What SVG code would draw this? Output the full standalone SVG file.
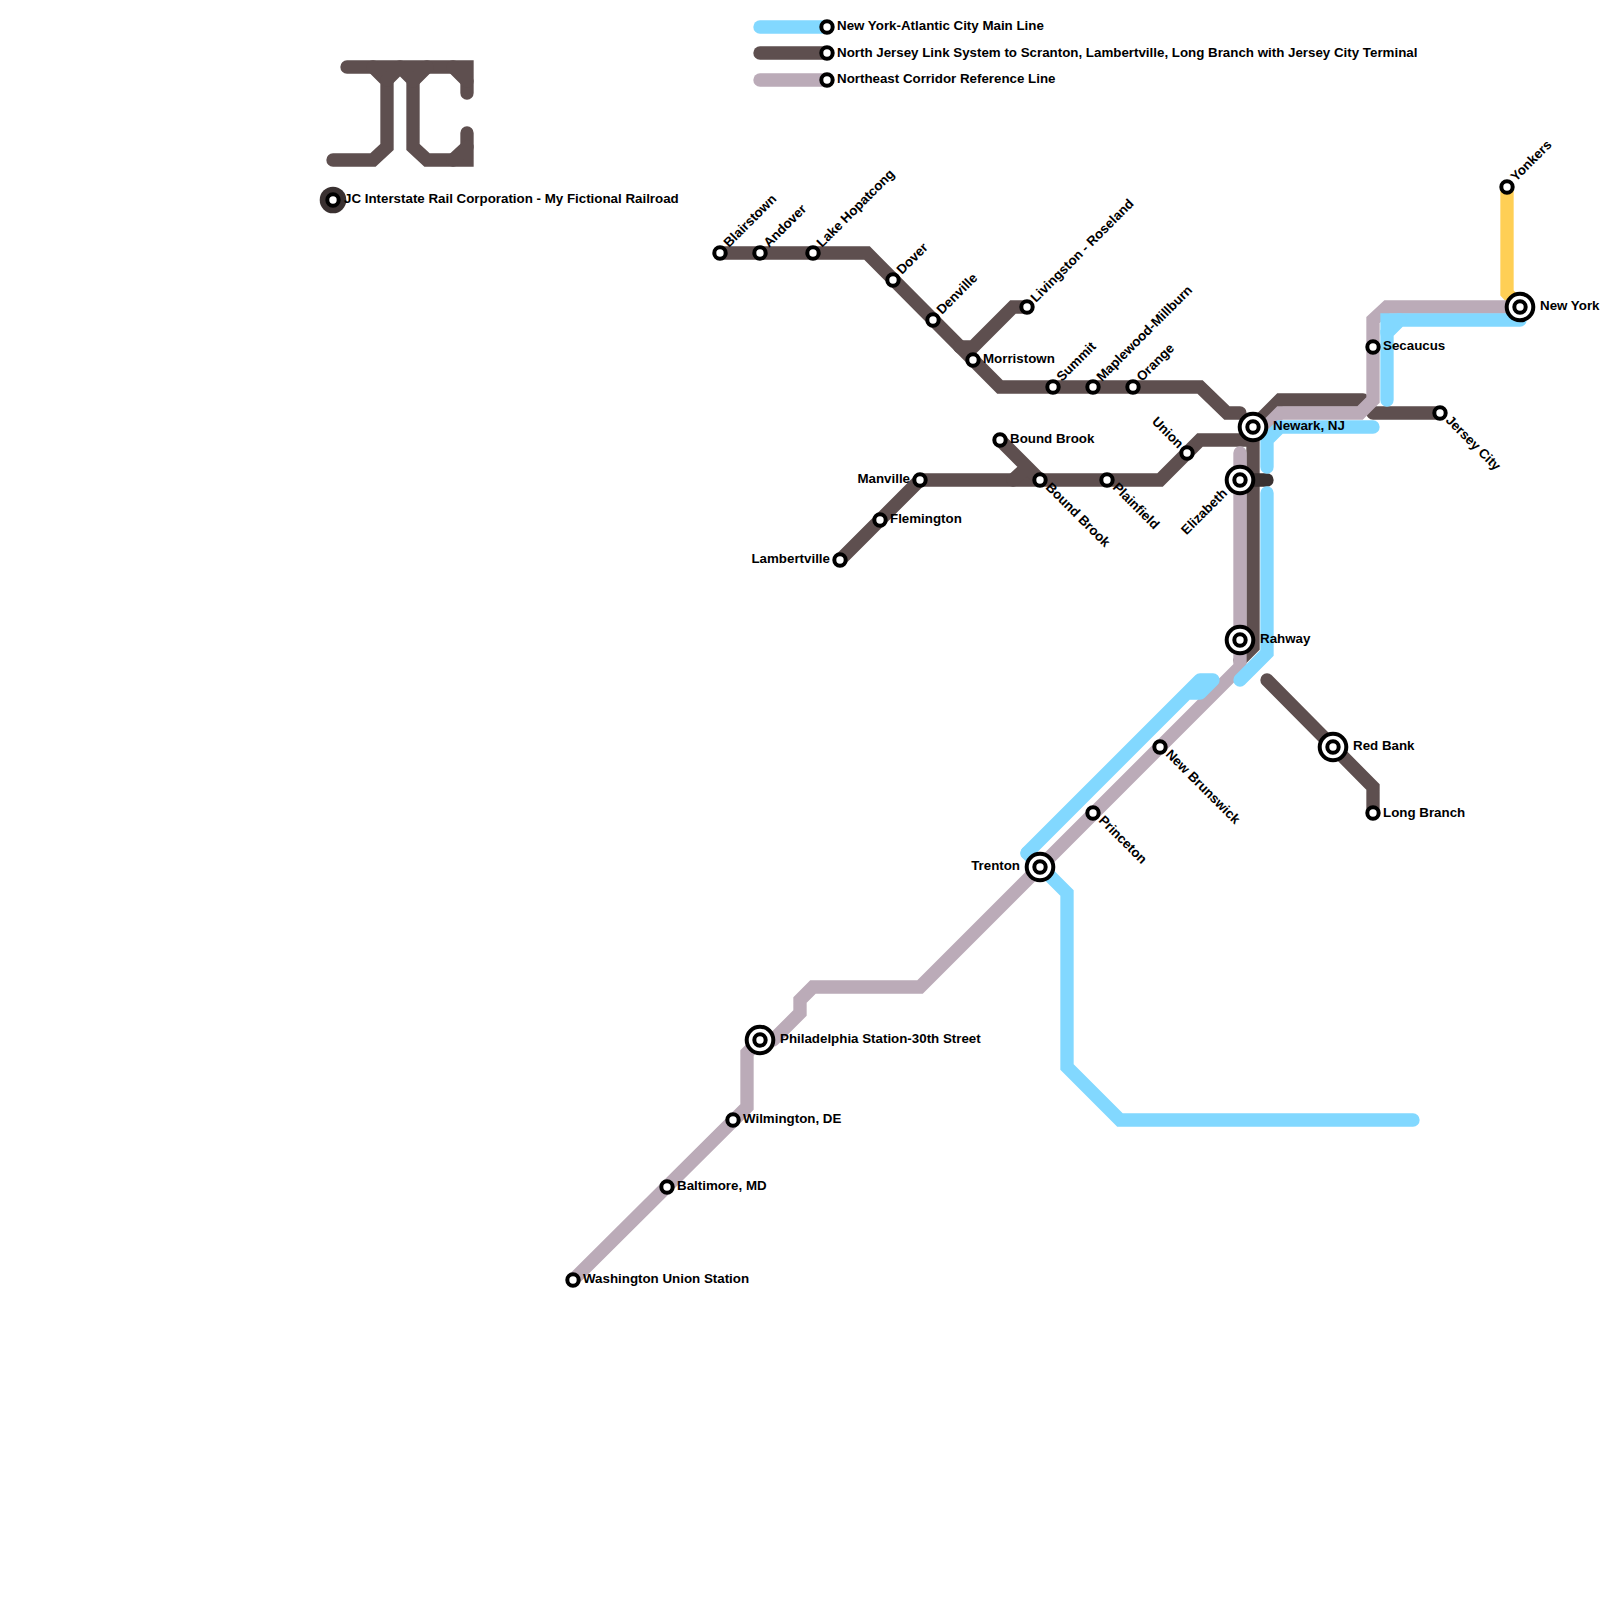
<svg xmlns="http://www.w3.org/2000/svg" width="1600" height="1600" viewBox="0 0 1600 1600">
<style>
.l{fill:none;stroke-width:13.33;stroke-linecap:round;stroke-linejoin:miter}
.r{stroke-linejoin:round}
.br{stroke:#5e4f4f}.bl{stroke:#82d8ff}.ma{stroke:#bbabb8}.ye{stroke:#ffcf55}.dk{stroke:#3a3131}
.s{fill:#fff;stroke:#000;stroke-width:4}
.i{fill:#fff;stroke:#000;stroke-width:4}
text{font-family:"Liberation Sans",Arial,sans-serif;font-weight:bold;font-size:13.33px;fill:#000}
.e{text-anchor:end}
</style>
<rect width="1600" height="1600" fill="#fff"/>
<g id="connectors">
<g id="logo">
<path class="l br" d="M347 67H467V93"/>
<path class="l br" d="M373 67L387 81V147L373 160H333"/>
<path class="l br" d="M400 67L387 80M400 67L413 80V147L427 160H467V133"/>
<path class="l br" d="M427 67L413 81M453 67L467 81M467 147L453 160"/>
</g>
<path class="l bl" d="M760 27H827"/>
<path class="l br" d="M760 53H827"/>
<path class="l ma" d="M760 80H827"/>
<path class="l ye" d="M1507 187V293L1520 307"/>
<path class="l br" d="M720 253H867L1000 387H1200L1227 413H1240"/>
<path class="l br" d="M960 347H973L1013 307H1027"/>
<path class="l br" d="M1253 427L1280 400H1363"/>
<path class="l br" d="M1373 413H1440"/>
<path class="l br" d="M840 560L920 480H1160L1200 440H1253V647L1240 660"/>
<path class="l br" d="M1000 440L1040 480M1013 480L1027 467"/>
<path class="l br" d="M1267 680L1373 787V813"/>
<path class="l dk" d="M1240 480H1267"/>
<path class="l ma" d="M573 1280L747 1107V1053L760 1040"/>
<path class="l ma" d="M773 1040L800 1013V1000L813 987H920L1240 667V453"/>
<path class="l ma" d="M1520 307H1387L1373 320V400L1360 413H1280L1260 433"/>
<path class="l bl" d="M1413 1120H1120L1067 1067V893L1027 853"/>
<path class="l bl r" d="M1027 853L1200 680H1213L1200 693H1187"/>
<path class="l bl" d="M1240 680L1267 653V493"/>
<path class="l bl" d="M1267 467V440L1280 427H1373"/>
<path class="l bl" d="M1387 400V333L1400 320H1520"/>
<path class="l bl" d="M1387 333V320H1400"/>
</g>
<g id="n-legend1"><circle class="s" cx="827" cy="27" r="5.7"/><text x="837" y="30">New York-Atlantic City Main Line</text></g>
<g id="n-legend2"><circle class="s" cx="827" cy="53" r="5.7"/><text x="837" y="57">North Jersey Link System to Scranton, Lambertville, Long Branch with Jersey City Terminal</text></g>
<g id="n-legend3"><circle class="s" cx="827" cy="80" r="5.7"/><text x="837" y="83">Northeast Corridor Reference Line</text></g>
<g id="n-title"><circle cx="333" cy="200" r="13.3" fill="#3a3131"/><circle class="s" cx="333" cy="200" r="5.7"/><text x="344" y="203">JC Interstate Rail Corporation - My Fictional Railroad</text></g>
<g id="n-blairstown"><circle class="s" cx="720" cy="253" r="5.7"/><text x="729" y="248" transform="rotate(-45 729 248)">Blairstown</text></g>
<g id="n-andover"><circle class="s" cx="760" cy="253" r="5.7"/><text x="769" y="248" transform="rotate(-45 769 248)">Andover</text></g>
<g id="n-lake"><circle class="s" cx="813" cy="253" r="5.7"/><text x="822" y="248" transform="rotate(-45 822 248)">Lake Hopatcong</text></g>
<g id="n-dover"><circle class="s" cx="893" cy="280" r="5.7"/><text x="902" y="275" transform="rotate(-45 902 275)">Dover</text></g>
<g id="n-denville"><circle class="s" cx="933" cy="320" r="5.7"/><text x="942" y="315" transform="rotate(-45 942 315)">Denville</text></g>
<g id="n-morristown"><circle class="s" cx="973" cy="360" r="5.7"/><text x="983" y="363">Morristown</text></g>
<g id="n-livingston"><circle class="s" cx="1027" cy="307" r="5.7"/><text x="1036" y="303" transform="rotate(-45 1036 303)">Livingston - Roseland</text></g>
<g id="n-summit"><circle class="s" cx="1053" cy="387" r="5.7"/><text x="1062" y="382" transform="rotate(-45 1062 382)">Summit</text></g>
<g id="n-maplewood"><circle class="s" cx="1093" cy="387" r="5.7"/><text x="1102" y="382" transform="rotate(-45 1102 382)">Maplewood-Millburn</text></g>
<g id="n-orange"><circle class="s" cx="1133" cy="387" r="5.7"/><text x="1142" y="382" transform="rotate(-45 1142 382)">Orange</text></g>
<g id="n-boundbrook1"><circle class="s" cx="1000" cy="440" r="5.7"/><text x="1010" y="443">Bound Brook</text></g>
<g id="n-boundbrook2"><circle class="s" cx="1040" cy="480" r="5.7"/><text x="1045" y="488" transform="rotate(45 1045 488)">Bound Brook</text></g>
<g id="n-plainfield"><circle class="s" cx="1107" cy="480" r="5.7"/><text x="1112" y="488" transform="rotate(45 1112 488)">Plainfield</text></g>
<g id="n-union"><circle class="s" cx="1187" cy="453" r="5.7"/><text class="e" x="1178" y="449" transform="rotate(45 1178 449)">Union</text></g>
<g id="n-manville"><circle class="s" cx="920" cy="480" r="5.7"/><text class="e" x="910" y="483">Manville</text></g>
<g id="n-flemington"><circle class="s" cx="880" cy="520" r="5.7"/><text x="890" y="523">Flemington</text></g>
<g id="n-lambertville"><circle class="s" cx="840" cy="560" r="5.7"/><text class="e" x="830" y="563">Lambertville</text></g>
<g id="n-newark"><circle class="i" cx="1253" cy="427" r="13.3"/><circle class="s" cx="1253" cy="427" r="5.7"/><text x="1273" y="430">Newark, NJ</text></g>
<g id="n-elizabeth"><circle class="i" cx="1240" cy="480" r="13.3"/><circle class="s" cx="1240" cy="480" r="5.7"/><text class="e" x="1228" y="494" transform="rotate(-45 1228 494)">Elizabeth</text></g>
<g id="n-rahway"><circle class="i" cx="1240" cy="640" r="13.3"/><circle class="s" cx="1240" cy="640" r="5.7"/><text x="1260" y="643">Rahway</text></g>
<g id="n-redbank"><circle class="i" cx="1333" cy="747" r="13.3"/><circle class="s" cx="1333" cy="747" r="5.7"/><text x="1353" y="750">Red Bank</text></g>
<g id="n-longbranch"><circle class="s" cx="1373" cy="813" r="5.7"/><text x="1383" y="817">Long Branch</text></g>
<g id="n-secaucus"><circle class="s" cx="1373" cy="347" r="5.7"/><text x="1383" y="350">Secaucus</text></g>
<g id="n-jerseycity"><circle class="s" cx="1440" cy="413" r="5.7"/><text x="1445" y="421" transform="rotate(45 1445 421)">Jersey City</text></g>
<g id="n-newyork"><circle class="i" cx="1520" cy="307" r="13.3"/><circle class="s" cx="1520" cy="307" r="5.7"/><text x="1540" y="310">New York</text></g>
<g id="n-yonkers"><circle class="s" cx="1507" cy="187" r="5.7"/><text x="1516" y="182" transform="rotate(-45 1516 182)">Yonkers</text></g>
<g id="n-newbrunswick"><circle class="s" cx="1160" cy="747" r="5.7"/><text x="1165" y="755" transform="rotate(45 1165 755)">New Brunswick</text></g>
<g id="n-princeton"><circle class="s" cx="1093" cy="813" r="5.7"/><text x="1098" y="821" transform="rotate(45 1098 821)">Princeton</text></g>
<g id="n-trenton"><circle class="i" cx="1040" cy="867" r="13.3"/><circle class="s" cx="1040" cy="867" r="5.7"/><text class="e" x="1020" y="870">Trenton</text></g>
<g id="n-philadelphia"><circle class="i" cx="760" cy="1040" r="13.3"/><circle class="s" cx="760" cy="1040" r="5.7"/><text x="780" y="1043">Philadelphia Station-30th Street</text></g>
<g id="n-wilmington"><circle class="s" cx="733" cy="1120" r="5.7"/><text x="743" y="1123">Wilmington, DE</text></g>
<g id="n-baltimore"><circle class="s" cx="667" cy="1187" r="5.7"/><text x="677" y="1190">Baltimore, MD</text></g>
<g id="n-washington"><circle class="s" cx="573" cy="1280" r="5.7"/><text x="583" y="1283">Washington Union Station</text></g>
</svg>
